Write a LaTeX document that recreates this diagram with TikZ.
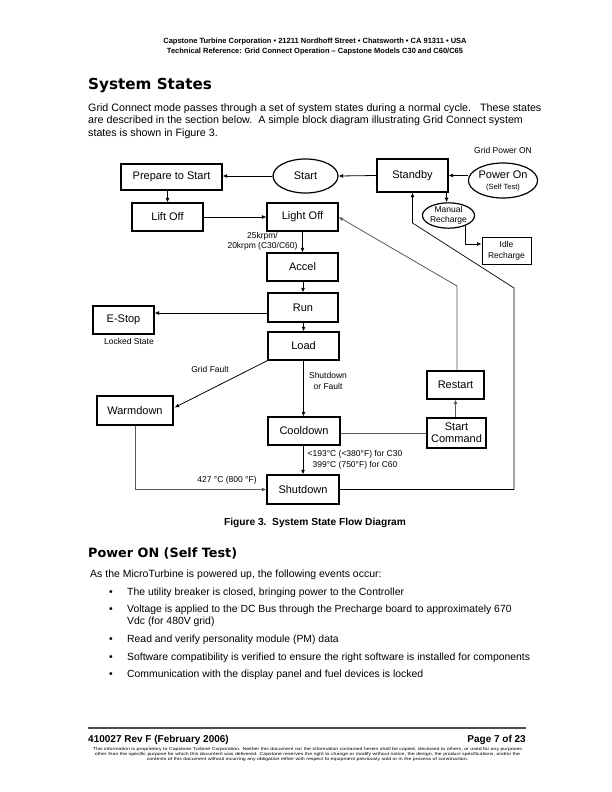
\documentclass[tikz,border=0pt]{standalone}
\usepackage{fontspec}
\setmainfont{Liberation Sans}
\newfontfamily\headfont{DejaVu Sans}
\usetikzlibrary{shapes.geometric,arrows.meta,calc}
\tikzset{
  box/.style={draw, line width=1.2pt, inner sep=1pt, align=center, font=\fontsize{11}{12.5}\selectfont},
  ell/.style={ellipse, draw, line width=1.2pt, inner sep=0pt, align=center},
  arr/.style={-{Latex[length=4.5pt,width=4pt]}, line width=0.8pt},
  garr/.style={-{Latex[length=4.5pt,width=4pt]}, line width=0.8pt, draw=black!65},
  gline/.style={line width=0.8pt, draw=black!65},
  lbl/.style={inner sep=0pt, align=center, font=\fontsize{8.5}{10.5}\selectfont},
  para/.style={anchor=base west, inner sep=0pt, font=\fontsize{10.7}{12.65}\selectfont},
  item/.style={anchor=base west, inner sep=0pt, font=\fontsize{10.4}{12.65}\selectfont},
  bul/.style={anchor=base, inner sep=0pt, font=\fontsize{10.4}{12.65}\selectfont},
}
\begin{document}
\begin{tikzpicture}[x=1pt,y=-1pt]
\fill[white] (0,0) rectangle (612,792);
\useasboundingbox (0,0) rectangle (612,792);

% header
\node[anchor=base, inner sep=0pt, font=\bfseries\fontsize{7.5}{9}\selectfont] (h1) at (315,43.5) {Capstone Turbine Corporation • 21211 Nordhoff Street • Chatsworth • CA 91311 • USA};
\node[anchor=base, inner sep=0pt, font=\bfseries\fontsize{7.5}{9}\selectfont] (h2) at (315,53.5) {Technical Reference: Grid Connect Operation – Capstone Models C30 and C60/C65};

\node[anchor=base west, inner sep=0pt, font=\headfont\bfseries\fontsize{15.2}{18}\selectfont] (t1) at (88,89) {System States};
\node[para] (p1) at (88,111) {Grid Connect mode passes through a set of system states during a normal cycle.\ \ \ These states};
\node[para] (p2) at (88,123.7) {are described in the section below.\ \ A simple block diagram illustrating Grid Connect system};
\node[para] (p3) at (88,136.3) {states is shown in Figure 3.};

% diagram nodes
\node[box, minimum width=101pt, minimum height=26pt] (prep) at (171.5,177) {Prepare to Start};
\node[ell, minimum width=65pt, minimum height=34pt, font=\fontsize{11}{12.5}\selectfont] (start) at (305.5,176) {Start};
\node[box, minimum width=71pt, minimum height=33pt] (standby) at (412.5,175.5) {Standby};
\node[ell, minimum width=68pt, minimum height=35pt] (power) at (503,180.5) {{\fontsize{11}{12}\selectfont Power On}\\[-1pt]{\fontsize{7.5}{8}\selectfont (Self Test)}};
\node[lbl] (gpo) at (503,150) {Grid Power ON};
\node[box, minimum width=71pt, minimum height=28pt] (liftoff) at (167.5,217) {Lift Off};
\node[box, minimum width=71pt, minimum height=28pt] (lightoff) at (302.5,217) {Light Off};
\node[ell, minimum width=49pt, minimum height=25pt, font=\fontsize{8.5}{10}\selectfont] (manual) at (448.5,215.5) {Manual\\Recharge};
\node[box, minimum width=49pt, minimum height=27pt, font=\fontsize{8.5}{11}\selectfont, line width=1pt] (idle) at (506.5,250.5) {Idle\\Recharge};
\node[box, minimum width=71pt, minimum height=28pt] (accel) at (302.5,267) {Accel};
\node[box, minimum width=70pt, minimum height=29pt] (run) at (303,307.5) {Run};
\node[box, minimum width=61pt, minimum height=28pt] (estop) at (123.5,320) {E-Stop};
\node[lbl] (locked) at (129,341.5) {Locked State};
\node[box, minimum width=71pt, minimum height=28pt] (load) at (303.5,346) {Load};
\node[box, minimum width=76pt, minimum height=29pt] (warm) at (135,410.5) {Warmdown};
\node[box, minimum width=57pt, minimum height=28pt] (restart) at (455.5,385) {Restart};
\node[box, minimum width=72pt, minimum height=28pt] (cool) at (304,431) {Cooldown};
\node[box, minimum width=59pt, minimum height=30pt, font=\fontsize{11}{12}\selectfont] (scmd) at (456.5,433) {Start\\Command};
\node[box, minimum width=72pt, minimum height=29pt] (shut) at (303,489.5) {Shutdown};

% labels
\node[lbl] (krpm) at (262.5,241.5) {25krpm/\\20krpm (C30/C60)};
\node[lbl] (gf) at (210,369.5) {Grid Fault};
\node[lbl] (sof) at (328,381) {Shutdown\\or Fault};
\node[lbl] (temp) at (355,460) {<193°C (<380°F) for C30\\399°C (750°F) for C60};
\node[lbl] (t427) at (227,480.5) {427 °C (800 °F)};

% connectors
\draw[arr] (standby.west) -- (start.east);
\draw[arr] (power.west |- standby.east) -- (standby.east);
\draw[arr] (start.west) -- (start.west -| prep.east);
\draw[arr] (liftoff.north |- prep.south) -- (liftoff.north);
\draw[arr] (liftoff.east) -- (liftoff.east -| lightoff.west);
\draw[arr] (lightoff.south) -- (lightoff.south |- accel.north);
\draw[arr] (accel.south -| run.north) -- (run.north);
\coordinate (rw) at ($(run.west)+(0,5.5)$);
\draw[arr] (rw) -- (rw -| estop.east);
\draw[arr] (load.north |- run.south) -- (load.north);
\coordinate (wi) at ($(warm.east)+(1,-3)$);
\draw[arr] (load.south west) -- (wi);
\draw[arr] (load.south) -- (load.south |- cool.north);
\draw[arr] (cool.south -| shut.north) -- (shut.north);
\draw[garr] (warm.south) |- (shut.west);
\draw[gline] (scmd.west) -- (scmd.west -| cool.east);
\draw[garr] (scmd.north -| restart.south) -- (restart.south);
\coordinate (r1) at (457,286);
\draw[garr] (restart.north -| r1) -- (r1) -- (lightoff.east);
\coordinate (s1) at (514,489.5);
\coordinate (s2) at (514,288);
\coordinate (s3) at (412.5,223);
\draw[arr, line width=0.7pt] (shut.east) -- (s1) -- (s2) -- (s3) -- (standby.south);
\coordinate (sm) at ([xshift=-2pt]standby.south east);
\draw[arr] (sm) -- (sm |- manual.north);
\coordinate (ii) at ($(idle.west)+(0,-6.5)$);
\draw[arr] (manual.-32) |- (ii);

% caption and text below
\node[anchor=base, inner sep=0pt, font=\bfseries\fontsize{10.2}{12}\selectfont] (cap) at (315,525.5) {Figure 3.\ \ System State Flow Diagram};
\node[anchor=base west, inner sep=0pt, font=\headfont\bfseries\fontsize{12.8}{15}\selectfont] (t2) at (88,557.5) {Power ON (Self Test)};
\node[anchor=base west, inner sep=0pt, font=\fontsize{10.5}{12.65}\selectfont] (p4) at (90,577) {As the MicroTurbine is powered up, the following events occur:};
\node[bul] (b1) at (111,595) {•};
\node[item] (l1) at (127,595) {The utility breaker is closed, bringing power to the Controller};
\node[bul] (b2) at (111,612.5) {•};
\node[item] (l2) at (127,612.5) {Voltage is applied to the DC Bus through the Precharge board to approximately 670};
\node[item] (l2b) at (127,624) {Vdc (for 480V grid)};
\node[bul] (b3) at (111,642) {•};
\node[item] (l3) at (127,642) {Read and verify personality module (PM) data};
\node[bul] (b4) at (111,660) {•};
\node[item] (l4) at (127,660) {Software compatibility is verified to ensure the right software is installed for components};
\node[bul] (b5) at (111,677.5) {•};
\node[item] (l5) at (127,677.5) {Communication with the display panel and fuel devices is locked};

% footer
\draw[line width=1.2pt, black!70] (88,728) -- (526,728);
\node[anchor=base west, inner sep=0pt, font=\bfseries\fontsize{10}{11}\selectfont] (f1) at (88,742.5) {410027 Rev F (February 2006)};
\node[anchor=base east, inner sep=0pt, font=\bfseries\fontsize{10}{11}\selectfont] (f2) at (526,742.5) {Page 7 of 23};
\node[anchor=north, inner sep=0pt, font=\fontsize{4.2}{4.6}\selectfont] (legal) at (307.5,747.5) {\scalebox{1.245}[1]{\begin{tabular}{@{}c@{}}This information is proprietary to Capstone Turbine Corporation. Neither this document nor the information contained herein shall be copied, disclosed to others, or used for any purposes\\other than the specific purpose for which this document was delivered. Capstone reserves the right to change or modify without notice, the design, the product specifications, and/or the\\contents of this document without incurring any obligation either with respect to equipment previously sold or in the process of construction.\end{tabular}}};
\end{tikzpicture}
\end{document}
